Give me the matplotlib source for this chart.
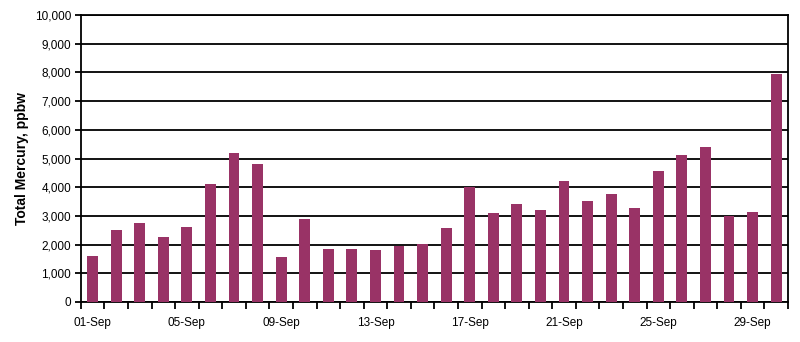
import matplotlib.pyplot as plt
import numpy as np

# daily total mercury, September
days = [f"{d:02d}-Sep" for d in range(1, 31)]
mercury = [1600, 2520, 2760, 2260, 2620, 4120, 5190, 4800, 1560, 2880,
           1830, 1830, 1820, 1940, 2030, 2580, 4000, 3090, 3400, 3220,
           4220, 3530, 3780, 3270, 4570, 5120, 5390, 3010, 3140, 7950]
yticks = list(range(0, 10001, 1000))

plt.rcParams['font.family'] = ['Liberation Sans', 'DejaVu Sans']

fig = plt.figure(figsize=(8, 3.42), dpi=100)
ax = fig.add_axes([0.101, 0.117, 0.884, 0.839])

x = np.arange(len(days))
ax.bar(x, mercury, width=0.46, color='#993366', zorder=3)

ax.set_xlim(-0.5, len(days) - 0.5)
ax.set_ylim(0, 10000)
ax.set_yticks(yticks)
ax.set_yticklabels([f"{v:,}" for v in yticks], fontsize=8.5)
ax.yaxis.grid(True, color='black', linewidth=1.3, zorder=0)
ax.set_axisbelow(True)

# tick marks between bars, labels under every 4th bar
ax.set_xticks(np.arange(-0.5, len(days), 1.0))
ax.set_xticklabels([])
ax.set_xticks(x[::4], minor=True)
ax.set_xticklabels(days[::4], minor=True, fontsize=8.5)
ax.tick_params(axis='x', which='major', length=5, width=1.3, direction='out')
ax.tick_params(axis='x', which='minor', length=0, pad=11)
ax.tick_params(axis='y', length=4, width=1.3, pad=3)

for side in ['left', 'bottom', 'right', 'top']:
    ax.spines[side].set_linewidth(1.3)
    ax.spines[side].set_color('black')

ax.set_ylabel("Total Mercury, ppbw", fontsize=10, fontweight='bold', labelpad=4)

fig.savefig('out.png', dpi=100)
